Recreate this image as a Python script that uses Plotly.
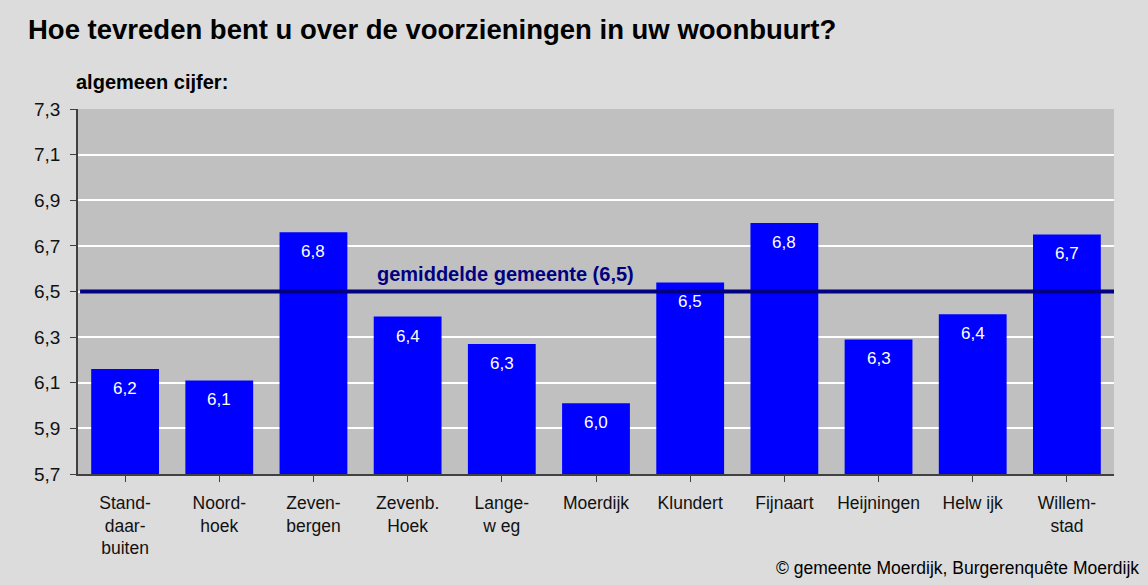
import plotly.graph_objects as go

categories = ["Stand-<br>daar-<br>buiten", "Noord-<br>hoek", "Zeven-<br>bergen", "Zevenb.<br>Hoek",
              "Lange-<br>w eg", "Moerdijk", "Klundert", "Fijnaart", "Heijningen", "Helw ijk",
              "Willem-<br>stad"]
values = [6.16, 6.11, 6.76, 6.39, 6.27, 6.01, 6.54, 6.80, 6.29, 6.40, 6.75]
value_labels = ["6,2", "6,1", "6,8", "6,4", "6,3", "6,0", "6,5", "6,8", "6,3", "6,4", "6,7"]
average = 6.5
average_label = "gemiddelde gemeente (6,5)"
y_ticks = [5.7, 5.9, 6.1, 6.3, 6.5, 6.7, 6.9, 7.1, 7.3]
y_tick_labels = ["5,7", "5,9", "6,1", "6,3", "6,5", "6,7", "6,9", "7,1", "7,3"]

FONT = "Liberation Sans, Arial, sans-serif"
idx = list(range(len(categories)))

fig = go.Figure()
fig.add_trace(go.Bar(
    x=idx, y=values, base=0,
    marker=dict(color="#0000FF", line=dict(width=0)),
    hoverinfo="skip",
))

annotations = []
for i, (v, lab) in enumerate(zip(values, value_labels)):
    annotations.append(dict(x=i, y=v, xref="x", yref="y", text=lab, showarrow=False,
                            yanchor="top", yshift=-8,
                            font=dict(family=FONT, size=17, color="white")))

annotations.append(dict(x=(375 - 78) / 1036, y=average, xref="paper", yref="y",
                        text="<b>" + average_label + "</b>", showarrow=False,
                        xanchor="left", yanchor="bottom", yshift=5,
                        font=dict(family=FONT, size=20, color="#000080")))
annotations.append(dict(x=(26 - 78) / 1036, y=(474 - 29) / 365, xref="paper", yref="paper",
                        text="<b>Hoe tevreden bent u over de voorzieningen in uw woonbuurt?</b>",
                        showarrow=False, xanchor="left", yanchor="middle",
                        font=dict(family=FONT, size=27.5, color="black")))
annotations.append(dict(x=(74 - 78) / 1036, y=(474 - 82) / 365, xref="paper", yref="paper",
                        text="<b>algemeen cijfer:</b>", showarrow=False,
                        xanchor="left", yanchor="middle",
                        font=dict(family=FONT, size=20, color="black")))
annotations.append(dict(x=(1141 - 78) / 1036, y=(474 - 568) / 365, xref="paper", yref="paper",
                        text="© gemeente Moerdijk, Burgerenquête Moerdijk", showarrow=False,
                        xanchor="right", yanchor="middle",
                        font=dict(family=FONT, size=17.5, color="black")))

fig.update_layout(
    width=1148, height=585,
    margin=dict(l=78, r=34, t=109, b=111),
    paper_bgcolor="#DCDCDC",
    plot_bgcolor="#C0C0C0",
    bargap=0.28,
    showlegend=False,
    annotations=annotations,
    shapes=[dict(type="line", xref="paper", yref="y", x0=0.002, x1=1, y0=average, y1=average,
                 line=dict(color="#000080", width=4), layer="above")],
    font=dict(family=FONT, color="black"),
)
fig.update_xaxes(
    tickmode="array", tickvals=idx, ticktext=categories,
    range=[-0.5, len(categories) - 0.5],
    tickson="boundaries", ticks="outside", ticklen=6, tickcolor="#404040",
    showline=True, linecolor="#404040", linewidth=1.5,
    showgrid=False, tickfont=dict(family=FONT, size=17.5, color="#111"),
    ticklabelstandoff=6,
)
fig.update_yaxes(
    range=[5.7, 7.3], tickmode="array", tickvals=y_ticks, ticktext=y_tick_labels,
    ticks="outside", ticklen=6, tickcolor="#404040",
    showline=True, linecolor="#404040", linewidth=1.5,
    showgrid=True, gridcolor="white", gridwidth=1.5,
    zeroline=False, tickfont=dict(family=FONT, size=19, color="#111"),
    ticklabelstandoff=6,
)

fig.write_html("out.html", config={"displayModeBar": False},
               post_script="document.body.style.margin='0';")
